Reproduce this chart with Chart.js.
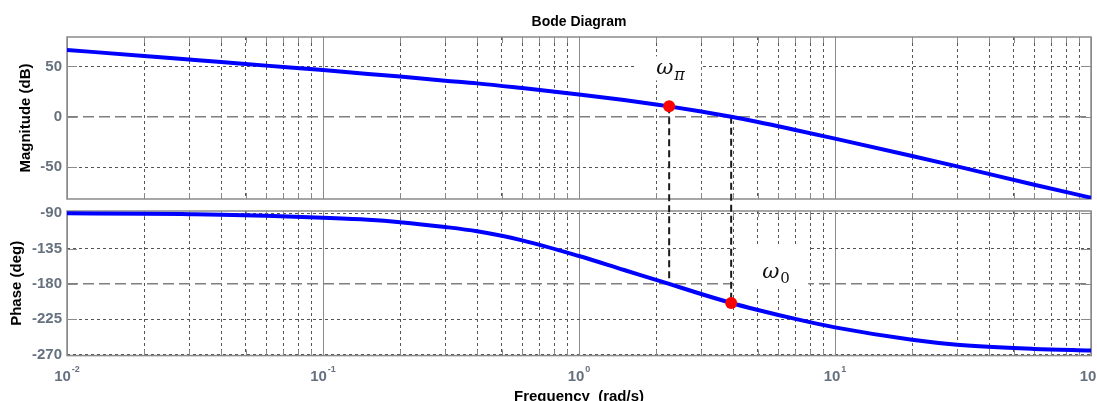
<!DOCTYPE html>
<html>
<head>
<meta charset="utf-8">
<title>Bode Diagram</title>
<script src="https://cdn.jsdelivr.net/npm/chart.js@4.4.0/dist/chart.umd.min.js"></script>
<style>
  html, body { margin: 0; padding: 0; background: #fff; overflow: hidden; }
  #wrap { position: relative; width: 1097px; height: 401px; }
  canvas { position: absolute; left: 0; }
  #mag { top: 0; }
  #phase { top: 205px; }
</style>
</head>
<body>
<div id="wrap">
  <canvas id="mag" width="1097" height="205"></canvas>
  <canvas id="phase" width="1097" height="196"></canvas>
</div>
<script>
// frequency response samples (rad/s, dB, deg)
const freq      = [0.01, 0.02, 0.03, 0.04, 0.06, 0.1, 0.15, 0.2, 0.3, 0.4, 0.6, 1, 1.5, 2, 2.25, 3, 3.93, 5, 7, 10, 20, 30, 60, 100];
const magnitude = [66.4, 60.4, 56.9, 54.4, 50.8, 46.4, 42.6, 40.0, 35.9, 33.2, 28.5, 22.2, 16.6, 12.3, 10.4, 5.2, 0, -5.1, -13.0, -21.6, -38.8, -49.1, -67.4, -80.2];
const phase     = [-90, -90.5, -91.2, -91.8, -93.1, -95.6, -98.2, -101.3, -107.5, -113, -124.5, -144.5, -162.3, -174.8, -180, -192.9, -204.3, -213.2, -224.6, -235.4, -251.2, -257.5, -262.9, -265];

// w_pi (phase = -180) and w_0 (gain = 0 dB)
const crossFreq  = [2.25, 3.93];
const crossMag   = [10.4, 0];
const crossPhase = [-180, -204.3];

// log axis decades and their exponent labels
const decades   = [0.01, 0.1, 1, 10, 100];
const decadeExp = ['-2', '-1', '0', '1', '2'];

const SANS = '"Liberation Sans", Arial, Helvetica, sans-serif';
const SERIF = '"DejaVu Serif", "Liberation Serif", serif';
const TICK_COLOR = '#66717f';
const FRAME = '#8a8a8a';
const TOP_H = 205;

Chart.defaults.font.family = SANS;

const gridFreq = [];
decades.slice(0, -1).forEach(d => { for (let k = 1; k < 10; k++) gridFreq.push(d * k); });
gridFreq.push(100);

function isDecade(v) {
  const l = Math.log10(v);
  return Math.abs(l - Math.round(l)) < 1e-9;
}

function makeScales(yMin, yMax, yStep, yTitle, titlePad, refLine) {
  const isRef = c => c.tick && Math.abs(c.tick.value - refLine) < 1e-6;
  const dec = c => c.tick && isDecade(c.tick.value);
  return {
    x: {
      type: 'logarithmic',
      min: 0.01,
      max: 100,
      afterBuildTicks: s => { s.ticks = gridFreq.map(v => ({ value: v, major: isDecade(v) })); },
      afterFit: s => { s.height = 0; s.paddingLeft = 0; s.paddingRight = 0; },
      ticks: { display: false },
      grid: {
        drawTicks: false,
        lineWidth: 1,
        color: c => dec(c) ? '#8c8c8c' : '#555',
      },
      border: { display: false, dash: c => dec(c) ? [] : [3, 3] },
    },
    y: {
      min: yMin,
      max: yMax,
      // fixed gutter; tick labels may hang past the plot edges
      afterFit: s => { s.width = 67; s.paddingTop = 0; s.paddingBottom = 0; },
      ticks: {
        stepSize: yStep,
        includeBounds: false,
        padding: 5,
        color: TICK_COLOR,
        font: { size: 15, weight: 'bold' },
      },
      grid: {
        drawTicks: false,
        color: c => isRef(c) ? '#7f7f7f' : '#555',
        lineWidth: c => isRef(c) ? 1.5 : 1,
      },
      border: { display: false, dash: c => isRef(c) ? [11, 5] : [3, 3] },
      title: {
        display: true,
        text: yTitle,
        color: '#000',
        font: { size: 15, weight: 'bold' },
        padding: { top: titlePad, bottom: 0 },
      },
    },
  };
}

// frame and inward tick marks
const axesBox = {
  id: 'axesBox',
  beforeDatasetsDraw(chart) {
    const { ctx, chartArea: a, scales: { x, y } } = chart;
    ctx.save();
    ctx.strokeStyle = FRAME;
    ctx.lineWidth = 1;
    ctx.beginPath();
    x.ticks.forEach(t => {
      const px = Math.round(x.getPixelForValue(t.value)) + 0.5;
      const len = isDecade(t.value) ? 10 : 6;
      ctx.moveTo(px, a.top); ctx.lineTo(px, a.top + len);
      ctx.moveTo(px, a.bottom); ctx.lineTo(px, a.bottom - len);
    });
    y.ticks.forEach(t => {
      const py = Math.round(y.getPixelForValue(t.value)) + 0.5;
      ctx.moveTo(a.left, py); ctx.lineTo(a.left + 10, py);
      ctx.moveTo(a.right, py); ctx.lineTo(a.right - 10, py);
    });
    ctx.stroke();
    ctx.lineWidth = 1.5;
    ctx.strokeRect(a.left, a.top, a.right - a.left, a.bottom - a.top);
    ctx.restore();
  },
};

const connectorLen = [];

function drawOmega(ctx, left, base, sub, subDy, subSize) {
  ctx.save();
  ctx.fillStyle = '#111';
  ctx.textAlign = 'left';
  ctx.textBaseline = 'alphabetic';
  ctx.font = 'italic 21px ' + SERIF;
  ctx.fillText('\u03C9', left, base);
  const w = ctx.measureText('\u03C9').width;
  ctx.font = (sub === '\u03C0' ? 'italic ' : '') + subSize + 'px ' + SERIF;
  ctx.fillText(sub, left + w + 1, base + subDy);
  ctx.restore();
}

const magExtras = {
  id: 'magExtras',
  beforeDatasetsDraw(chart) {
    const { ctx, scales: { x, y } } = chart;
    const mx = x.getPixelForValue(crossFreq[0]);
    const my = y.getPixelForValue(crossMag[0]);
    ctx.save();
    ctx.fillStyle = '#fff';
    ctx.fillRect(mx - 34, my - 50, 66, 24);
    ctx.strokeStyle = '#1a1a1a';
    ctx.lineWidth = 2;
    ctx.setLineDash([7, 4]);
    crossFreq.forEach((f, i) => {
      const px = x.getPixelForValue(f);
      const py = y.getPixelForValue(crossMag[i]);
      connectorLen[i] = TOP_H - py;
      ctx.beginPath();
      ctx.moveTo(px, py);
      ctx.lineTo(px, TOP_H);
      ctx.stroke();
    });
    ctx.restore();
  },
  afterDraw(chart) {
    const { ctx, chartArea: a, scales: { x, y } } = chart;
    ctx.save();
    ctx.fillStyle = '#000';
    ctx.font = 'bold 14px ' + SANS;
    ctx.textAlign = 'center';
    ctx.textBaseline = 'alphabetic';
    ctx.fillText('Bode Diagram', (a.left + a.right) / 2, 26);
    ctx.restore();
    const mx = x.getPixelForValue(crossFreq[0]);
    const my = y.getPixelForValue(crossMag[0]);
    drawOmega(ctx, mx - 13, my - 32, '\u03C0', 6, 16);
  },
};

const phaseExtras = {
  id: 'phaseExtras',
  beforeDatasetsDraw(chart) {
    const { ctx, scales: { x, y } } = chart;
    const mx = x.getPixelForValue(crossFreq[1]);
    const my = y.getPixelForValue(crossPhase[1]);
    ctx.save();
    ctx.fillStyle = '#fff';
    ctx.fillRect(mx + 7, my - 58, 70, 41);
    ctx.strokeStyle = '#1a1a1a';
    ctx.lineWidth = 2;
    ctx.setLineDash([7, 4]);
    crossFreq.forEach((f, i) => {
      const px = x.getPixelForValue(f);
      const py = y.getPixelForValue(crossPhase[i]);
      ctx.lineDashOffset = connectorLen[i] || 0;
      ctx.beginPath();
      ctx.moveTo(px, 0);
      ctx.lineTo(px, py);
      ctx.stroke();
    });
    ctx.restore();
  },
  afterDraw(chart) {
    const { ctx, chartArea: a, scales: { x, y } } = chart;
    ctx.save();
    ctx.fillStyle = TICK_COLOR;
    ctx.textAlign = 'left';
    ctx.textBaseline = 'alphabetic';
    decades.forEach((d, i) => {
      ctx.font = 'bold 15px ' + SANS;
      const wb = ctx.measureText('10').width;
      ctx.font = 'bold 9px ' + SANS;
      const we = ctx.measureText(decadeExp[i]).width;
      const left = x.getPixelForValue(d) - (wb + we + 1) / 2;
      ctx.font = 'bold 15px ' + SANS;
      ctx.fillText('10', left, a.bottom + 25);
      ctx.font = 'bold 9px ' + SANS;
      ctx.fillText(decadeExp[i], left + wb + 1, a.bottom + 16.5);
    });
    ctx.fillStyle = '#000';
    ctx.font = 'bold 15px ' + SANS;
    ctx.textAlign = 'center';
    ctx.fillText('Frequency  (rad/s)', (a.left + a.right) / 2, chart.height);
    ctx.restore();
    const mx = x.getPixelForValue(crossFreq[1]);
    const my = y.getPixelForValue(crossPhase[1]);
    drawOmega(ctx, mx + 31, my - 24.5, '0', 4.5, 15);
  },
};

function commonOptions(padding, scales) {
  return {
    responsive: false,
    animation: false,
    events: [],
    layout: { padding },
    plugins: { legend: { display: false }, tooltip: { enabled: false }, title: { display: false } },
    scales,
  };
}

const curveStyle = {
  borderColor: '#0000ff',
  borderWidth: 4,
  pointRadius: 0,
  fill: false,
  cubicInterpolationMode: 'monotone',
  order: 1,
};
const markerStyle = {
  showLine: false,
  pointRadius: 6,
  pointBackgroundColor: '#ff0000',
  pointBorderWidth: 0,
  order: 0,
};

new Chart(document.getElementById('mag'), {
  type: 'line',
  data: {
    datasets: [
      { ...curveStyle, data: freq.map((f, i) => ({ x: f, y: magnitude[i] })) },
      { ...markerStyle, data: [{ x: crossFreq[0], y: crossMag[0] }] },
    ],
  },
  options: commonOptions({ top: 37, right: 6, bottom: 5, left: 0 },
    makeScales(-81.5, 79.2, 50, 'Magnitude (dB)', 17, 0)),
  plugins: [axesBox, magExtras],
});

new Chart(document.getElementById('phase'), {
  type: 'line',
  data: {
    datasets: [
      { ...curveStyle, data: freq.map((f, i) => ({ x: f, y: phase[i] })) },
      { ...markerStyle, data: [{ x: crossFreq[1], y: crossPhase[1] }] },
    ],
  },
  options: commonOptions({ top: 6, right: 6, bottom: 45.4, left: 0 },
    makeScales(-271.4, -87.1, 45, 'Phase (deg)', 8, -180)),
  plugins: [axesBox, phaseExtras],
});
</script>
</body>
</html>
